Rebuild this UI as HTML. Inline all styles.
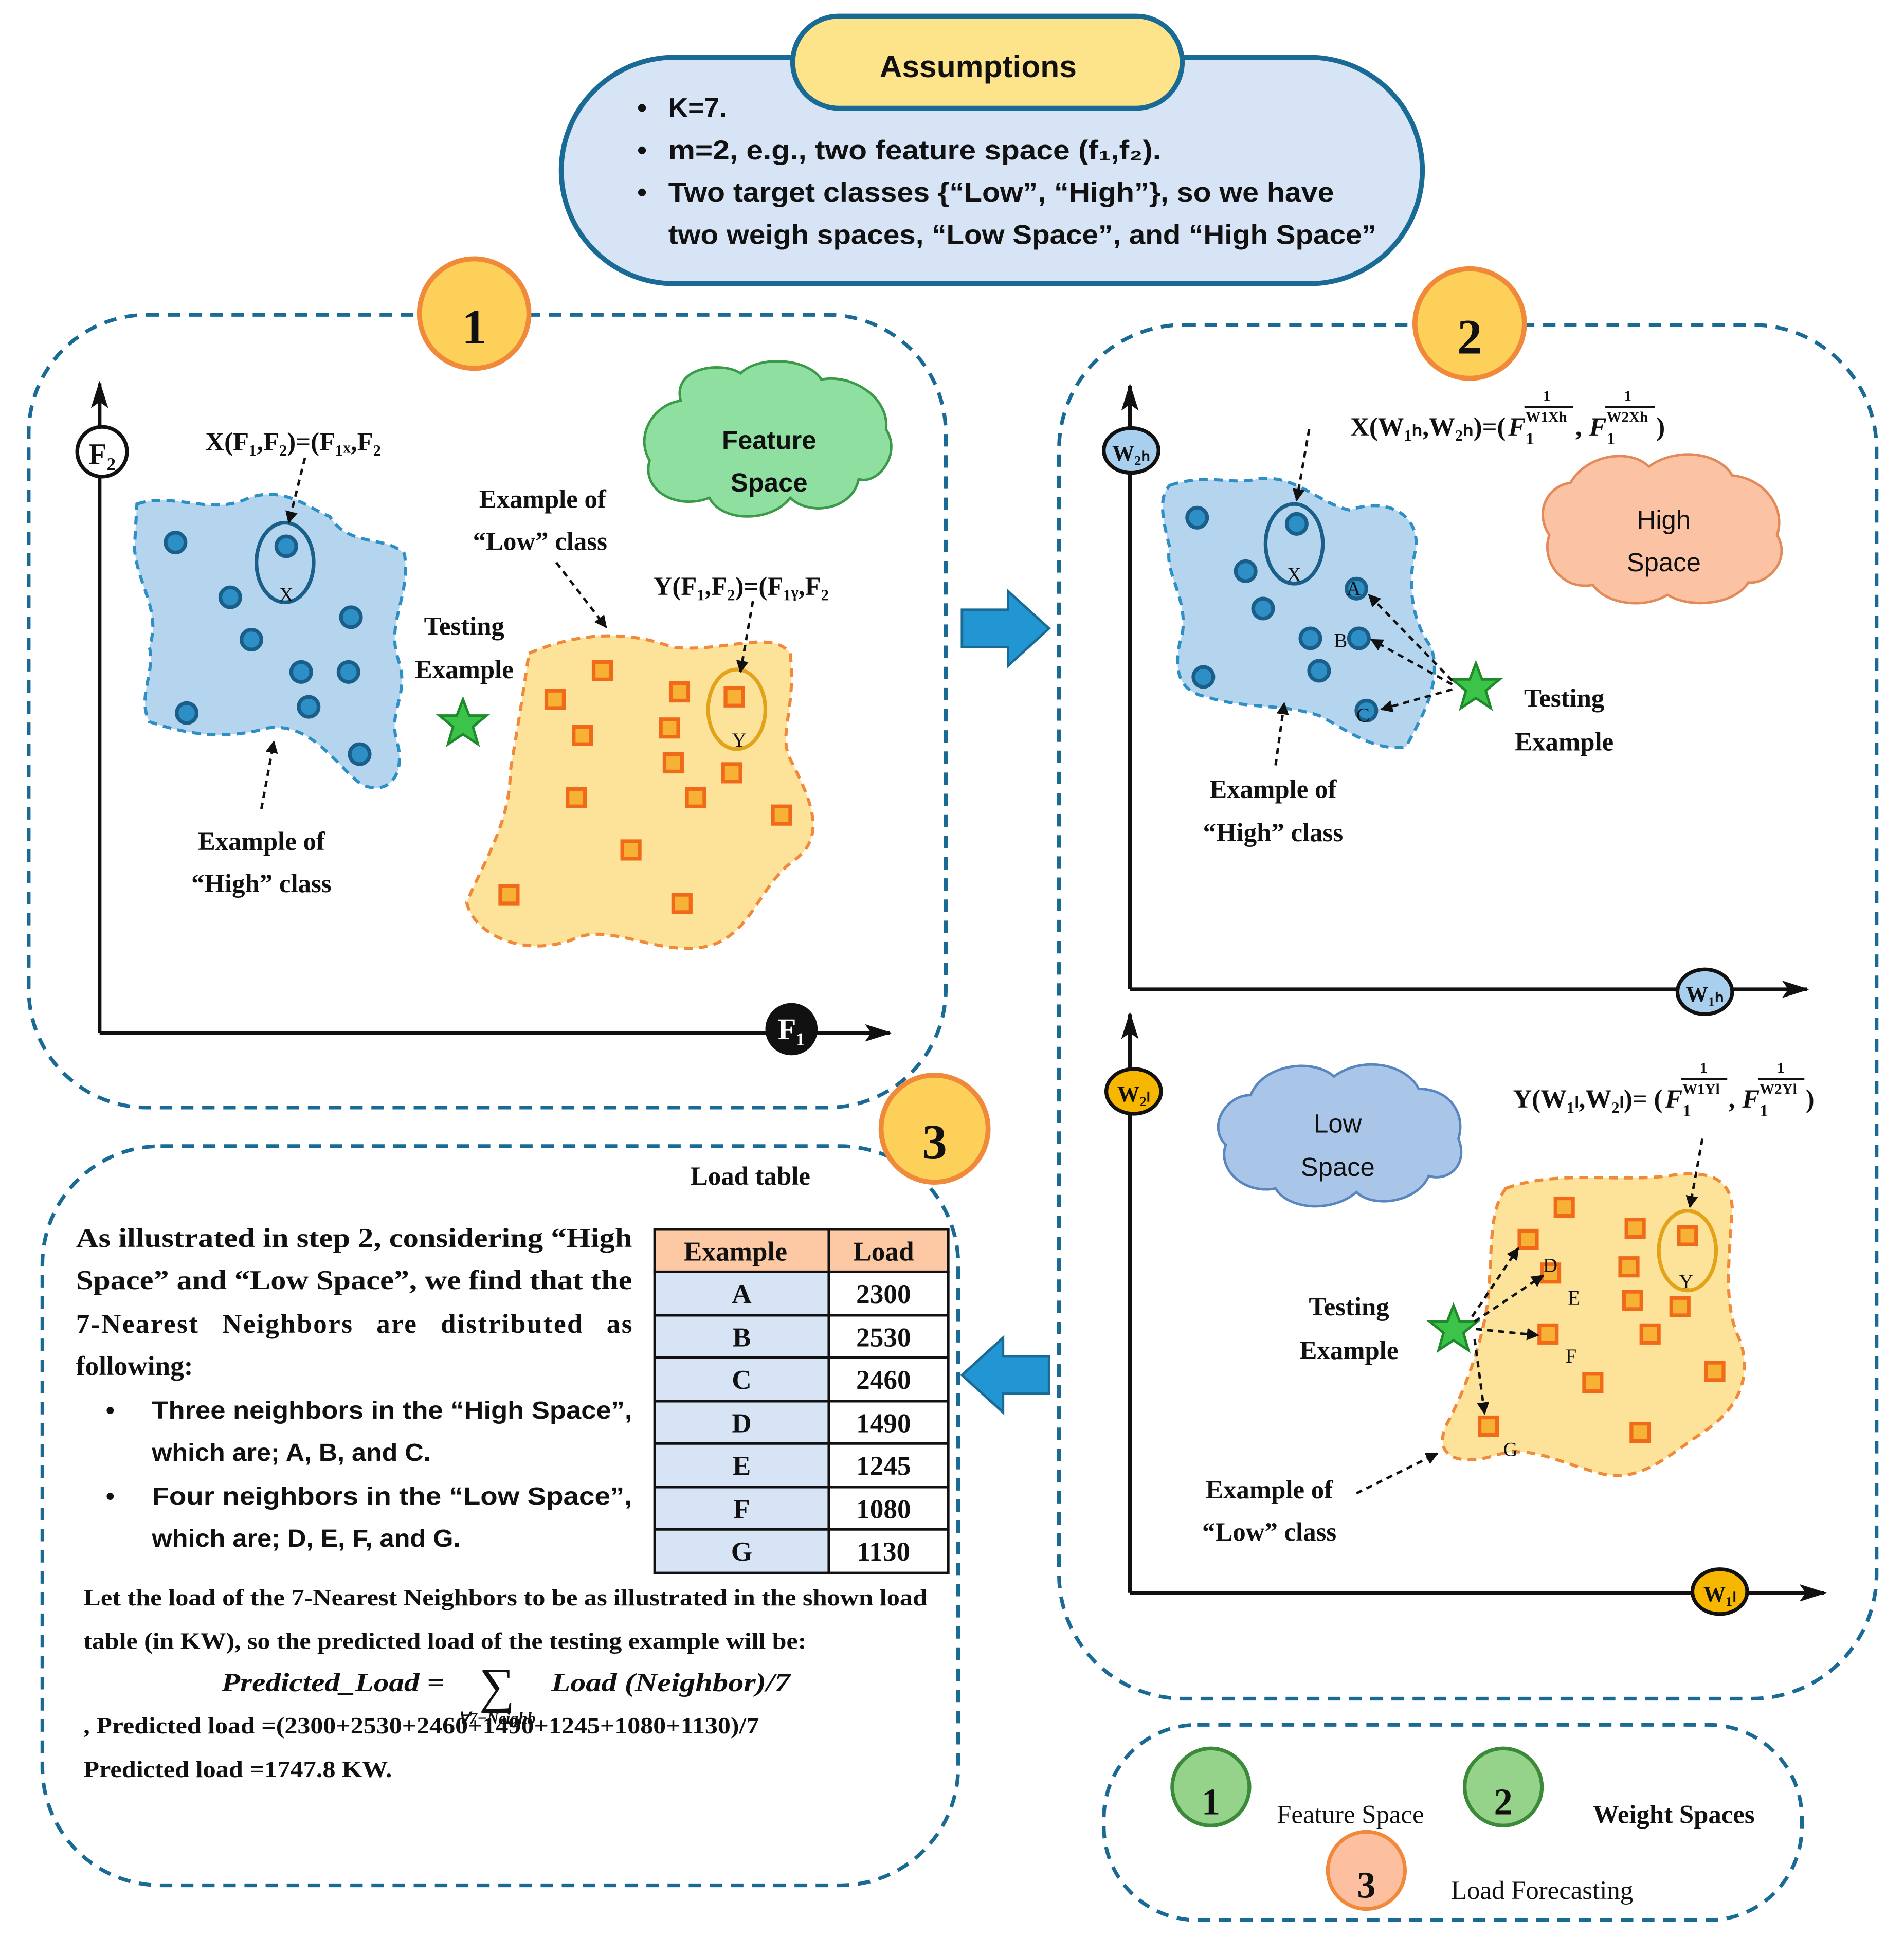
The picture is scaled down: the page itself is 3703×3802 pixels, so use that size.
<!DOCTYPE html>
<html><head><meta charset="utf-8"><style>
html,body{margin:0;padding:0;background:#fff}
svg{display:block}
.s{font-family:"Liberation Serif",serif;font-weight:bold;fill:#111}
.a{font-family:"Liberation Sans",sans-serif;font-weight:bold;fill:#111}
.n{font-weight:normal}
</style></head><body>
<svg xmlns="http://www.w3.org/2000/svg" width="3703" height="3802" viewBox="0 0 1530 1571">
<defs>
<marker id="ar" markerWidth="10" markerHeight="10" refX="9" refY="5" orient="auto" markerUnits="userSpaceOnUse"><path d="M0,0 L10,5 L0,10 Z" fill="#111"/></marker>
<marker id="ax" markerWidth="22" markerHeight="14" refX="20" refY="7" orient="auto" markerUnits="userSpaceOnUse"><path d="M0,0 L22,7 L0,14 L5,7 Z" fill="#111"/></marker>
<g id="dot"><circle r="8" fill="#2e8fc7" stroke="#1a5e8a" stroke-width="3"/></g>
<g id="sq"><rect x="-7" y="-7" width="14" height="14" fill="#f7b235" stroke="#f06a1a" stroke-width="3"/></g>
<g id="star"><polygon points="0,-19 5,-6 19,-6 8,3 12,17 0,9 -12,17 -8,3 -19,-6 -5,-6" fill="#3cc34a" stroke="#1e8a2a" stroke-width="2"/></g>
</defs>

<!-- Assumptions -->
<rect x="451" y="46" width="692" height="182" rx="91" fill="#d6e4f5" stroke="#1a6a96" stroke-width="4"/>
<rect x="637" y="13" width="313" height="74" rx="37" fill="#fde48a" stroke="#1a6a96" stroke-width="4"/>
<text x="786" y="62" class="a" font-size="25" text-anchor="middle">Assumptions</text>
<g class="a" font-size="22">
<text x="512" y="94">•</text><text x="512" y="128">•</text><text x="512" y="162">•</text>
<text x="537" y="94">K=7.</text>
<text x="537" y="128" textLength="396" lengthAdjust="spacingAndGlyphs">m=2, e.g., two feature space (f₁,f₂).</text>
<text x="537" y="162" textLength="535" lengthAdjust="spacingAndGlyphs">Two target classes {“Low”, “High”}, so we have</text>
<text x="537" y="196" textLength="569" lengthAdjust="spacingAndGlyphs">two weigh spaces, “Low Space”, and “High Space”</text>
</g>

<!-- Panel 1 -->
<rect x="23" y="253" width="737" height="637" rx="95" fill="none" stroke="#1a6a96" stroke-width="3" stroke-dasharray="10,7"/>
<circle cx="381" cy="252" r="44" fill="#fdd05a" stroke="#f08a3a" stroke-width="4"/>
<text x="381" y="276" class="s" font-size="40" text-anchor="middle">1</text>
<line x1="80" y1="830" x2="80" y2="308" stroke="#111" stroke-width="3" marker-end="url(#ax)"/>
<line x1="80" y1="830" x2="715" y2="830" stroke="#111" stroke-width="3" marker-end="url(#ax)"/>
<circle cx="82" cy="363" r="20" fill="#fff" stroke="#111" stroke-width="3"/>
<text x="82" y="373" class="s" font-size="24" text-anchor="middle">F₂</text>
<circle cx="636" cy="827" r="21" fill="#111"/>
<text x="636" y="835" class="s" font-size="24" text-anchor="middle" style="fill:#fff">F₁</text>
<path d="M110,405 C140,395 170,415 200,400 C230,390 250,410 265,415 C280,440 310,430 325,445 C330,480 310,500 320,530 C330,560 310,570 320,600 C325,625 310,640 290,630 C270,615 250,580 215,585 C180,595 150,590 120,580 C110,560 125,540 120,520 C130,490 110,470 108,440 Z" fill="#b5d5ef" stroke="#2e8fc7" stroke-width="2.5" stroke-dasharray="7,5"/>
<use href="#dot" x="141" y="436"/><use href="#dot" x="230" y="439"/><use href="#dot" x="185" y="480"/>
<use href="#dot" x="282" y="496"/><use href="#dot" x="202" y="514"/><use href="#dot" x="242" y="540"/>
<use href="#dot" x="280" y="540"/><use href="#dot" x="248" y="568"/><use href="#dot" x="150" y="573"/><use href="#dot" x="289" y="606"/>
<ellipse cx="229" cy="452" rx="23" ry="32" fill="none" stroke="#1a5e8a" stroke-width="3"/>
<text x="230" y="483" class="s n" font-size="16" text-anchor="middle">X</text>
<path d="M425,525 C460,510 500,505 540,520 C580,525 620,505 635,525 C640,570 625,590 635,610 C650,640 665,670 640,690 C610,710 605,750 570,760 C530,770 490,740 460,755 C420,770 380,750 375,725 C390,690 410,660 410,620 C415,590 420,560 425,525 Z" fill="#fde39a" stroke="#f08a3a" stroke-width="2.5" stroke-dasharray="7,5"/>
<use href="#sq" x="484" y="539"/><use href="#sq" x="546" y="556"/><use href="#sq" x="590" y="560"/><use href="#sq" x="446" y="562"/>
<use href="#sq" x="538" y="585"/><use href="#sq" x="468" y="591"/><use href="#sq" x="541" y="613"/><use href="#sq" x="588" y="621"/>
<use href="#sq" x="463" y="641"/><use href="#sq" x="559" y="641"/><use href="#sq" x="628" y="655"/><use href="#sq" x="507" y="683"/>
<use href="#sq" x="409" y="719"/><use href="#sq" x="548" y="726"/>
<ellipse cx="592" cy="570" rx="23" ry="32" fill="none" stroke="#e2a21a" stroke-width="3"/>
<text x="594" y="600" class="s n" font-size="16" text-anchor="middle">Y</text>
<use href="#star" x="372" y="581"/>
<path d="M547,322 C540,295 580,290 595,300 C610,285 650,288 660,305 C685,300 715,320 712,345 C725,365 705,390 690,385 C685,410 650,415 635,400 C620,420 580,420 570,400 C545,410 515,395 522,370 C510,350 525,325 547,322 Z" fill="#8fe0a0" stroke="#3a9a4a" stroke-width="2"/>
<text x="618" y="361" class="a" font-size="21" text-anchor="middle">Feature</text>
<text x="618" y="395" class="a" font-size="21" text-anchor="middle">Space</text>
<g class="s" font-size="21">
<text x="165" y="362">X(F₁,F₂)=(F₁ₓ,F₂</text>
<text x="385" y="408">Example of</text>
<text x="380" y="442">“Low” class</text>
<text x="525" y="478">Y(F₁,F₂)=(F₁ᵧ,F₂</text>
<text x="373" y="510" text-anchor="middle">Testing</text>
<text x="373" y="545" text-anchor="middle">Example</text>
<text x="210" y="683" text-anchor="middle">Example of</text>
<text x="210" y="717" text-anchor="middle">“High” class</text>
</g>
<g stroke="#111" stroke-width="2" stroke-dasharray="5,4" fill="none" marker-end="url(#ar)">
<line x1="245" y1="368" x2="232" y2="420"/>
<line x1="447" y1="452" x2="487" y2="504"/>
<line x1="605" y1="483" x2="595" y2="540"/>
<line x1="210" y1="650" x2="220" y2="596"/>
</g>

<!-- arrows -->
<path d="M773,490 L810,490 L810,475 L843,505 L810,535 L810,520 L773,520 Z" fill="#2196d3" stroke="#1a6a96" stroke-width="2"/>
<path d="M843,1090 L806,1090 L806,1075 L773,1105 L806,1135 L806,1120 L843,1120 Z" fill="#2196d3" stroke="#1a6a96" stroke-width="2"/>

<!-- Panel 2 -->
<rect x="851" y="261" width="657" height="1104" rx="100" fill="none" stroke="#1a6a96" stroke-width="3" stroke-dasharray="10,7"/>
<circle cx="1181" cy="260" r="44" fill="#fdd05a" stroke="#f08a3a" stroke-width="4"/>
<text x="1181" y="284" class="s" font-size="40" text-anchor="middle">2</text>
<line x1="908" y1="795" x2="908" y2="310" stroke="#111" stroke-width="3" marker-end="url(#ax)"/>
<line x1="908" y1="795" x2="1452" y2="795" stroke="#111" stroke-width="3" marker-end="url(#ax)"/>
<ellipse cx="909" cy="362" rx="22" ry="18" fill="#a9cfee" stroke="#111" stroke-width="3"/>
<text x="909" y="370" class="s" font-size="18" text-anchor="middle">W₂ₕ</text>
<ellipse cx="1370" cy="797" rx="22" ry="18" fill="#a9cfee" stroke="#111" stroke-width="3"/>
<text x="1370" y="805" class="s" font-size="18" text-anchor="middle">W₁ₕ</text>
<path d="M940,390 C970,380 990,390 1010,385 C1040,380 1060,405 1085,410 C1110,400 1140,410 1138,440 C1130,470 1135,500 1150,520 C1160,550 1140,580 1130,600 C1105,605 1080,585 1060,575 C1030,565 1000,570 970,560 C940,555 945,525 950,510 C955,480 935,460 940,440 C935,420 930,400 940,390 Z" fill="#b5d5ef" stroke="#2e8fc7" stroke-width="2.5" stroke-dasharray="7,5"/>
<use href="#dot" x="962" y="416"/><use href="#dot" x="1042" y="421"/><use href="#dot" x="1001" y="459"/><use href="#dot" x="1015" y="489"/>
<use href="#dot" x="1090" y="473"/><use href="#dot" x="1053" y="513"/><use href="#dot" x="1092" y="513"/><use href="#dot" x="1060" y="539"/>
<use href="#dot" x="967" y="544"/><use href="#dot" x="1098" y="571"/>
<ellipse cx="1040" cy="437" rx="23" ry="32" fill="none" stroke="#1a5e8a" stroke-width="3"/>
<g class="s n" font-size="16"><text x="1040" y="467" text-anchor="middle">X</text><text x="1082" y="478">A</text><text x="1072" y="520">B</text><text x="1090" y="580">C</text></g>
<use href="#star" x="1186" y="552"/>
<g stroke="#111" stroke-width="2" stroke-dasharray="5,4" fill="none" marker-end="url(#ar)">
<line x1="1167" y1="547" x2="1100" y2="478"/>
<line x1="1167" y1="550" x2="1102" y2="514"/>
<line x1="1167" y1="554" x2="1110" y2="570"/>
<line x1="1052" y1="345" x2="1042" y2="402"/>
<line x1="1025" y1="615" x2="1032" y2="565"/>
</g>
<path d="M1262,388 C1275,365 1310,360 1325,375 C1345,360 1380,362 1392,382 C1420,385 1435,410 1428,430 C1440,450 1420,470 1405,468 C1395,485 1360,490 1340,478 C1320,490 1290,485 1280,470 C1255,475 1238,450 1245,430 C1232,410 1245,390 1262,388 Z" fill="#fbc3a4" stroke="#e28a5a" stroke-width="2"/>
<text x="1337" y="425" class="a n" font-size="21" text-anchor="middle">High</text>
<text x="1337" y="459" class="a n" font-size="21" text-anchor="middle">Space</text>
<g class="s" font-size="21">
<text x="1210" y="350" text-anchor="end">X(W₁ₕ,W₂ₕ)=(</text>
<text x="1212" y="350" font-style="italic">F</text>
<text x="1226" y="357" font-size="14">1</text>
<text x="1226" y="339" font-size="12">W1Xh</text><line x1="1225" y1="327" x2="1264" y2="327" stroke="#111" stroke-width="1.5"/>
<text x="1240" y="322" font-size="12">1</text>
<text x="1266" y="350">, </text><text x="1277" y="350" font-style="italic">F</text>
<text x="1291" y="357" font-size="14">1</text>
<text x="1291" y="339" font-size="12">W2Xh</text><line x1="1290" y1="327" x2="1330" y2="327" stroke="#111" stroke-width="1.5"/>
<text x="1305" y="322" font-size="12">1</text>
<text x="1331" y="350">)</text>
<text x="1257" y="568" text-anchor="middle">Testing</text>
<text x="1257" y="603" text-anchor="middle">Example</text>
<text x="1023" y="641" text-anchor="middle">Example of</text>
<text x="1023" y="676" text-anchor="middle">“High” class</text>
</g>

<line x1="908" y1="1280" x2="908" y2="815" stroke="#111" stroke-width="3" marker-end="url(#ax)"/>
<line x1="908" y1="1280" x2="1466" y2="1280" stroke="#111" stroke-width="3" marker-end="url(#ax)"/>
<ellipse cx="911" cy="877" rx="22" ry="18" fill="#f7b700" stroke="#111" stroke-width="3"/>
<text x="911" y="885" class="s" font-size="18" text-anchor="middle">W₂ₗ</text>
<ellipse cx="1382" cy="1279" rx="22" ry="18" fill="#f7b700" stroke="#111" stroke-width="3"/>
<text x="1382" y="1287" class="s" font-size="18" text-anchor="middle">W₁ₗ</text>
<path d="M1005,880 C1015,855 1055,850 1072,865 C1095,848 1130,855 1140,875 C1165,875 1178,895 1172,915 C1180,935 1165,950 1148,945 C1140,965 1105,972 1090,958 C1070,975 1035,972 1025,955 C1000,960 978,940 985,920 C970,905 985,880 1005,880 Z" fill="#a9c6e8" stroke="#5a86c0" stroke-width="2"/>
<text x="1075" y="910" class="a n" font-size="21" text-anchor="middle">Low</text>
<text x="1075" y="945" class="a n" font-size="21" text-anchor="middle">Space</text>
<path d="M1210,955 C1250,940 1300,950 1340,945 C1370,940 1390,945 1392,970 C1390,1010 1385,1040 1395,1070 C1410,1100 1400,1130 1370,1150 C1340,1170 1320,1190 1290,1185 C1250,1175 1230,1160 1200,1170 C1165,1180 1150,1165 1165,1140 C1180,1110 1190,1080 1195,1050 C1200,1010 1195,975 1210,955 Z" fill="#fde39a" stroke="#f08a3a" stroke-width="2.5" stroke-dasharray="7,5"/>
<use href="#sq" x="1257" y="970"/><use href="#sq" x="1228" y="996"/><use href="#sq" x="1314" y="987"/><use href="#sq" x="1356" y="993"/>
<use href="#sq" x="1309" y="1018"/><use href="#sq" x="1246" y="1023"/><use href="#sq" x="1312" y="1045"/><use href="#sq" x="1350" y="1050"/>
<use href="#sq" x="1244" y="1072"/><use href="#sq" x="1326" y="1072"/><use href="#sq" x="1378" y="1102"/><use href="#sq" x="1280" y="1111"/>
<use href="#sq" x="1196" y="1146"/><use href="#sq" x="1318" y="1151"/>
<ellipse cx="1356" cy="1005" rx="23" ry="32" fill="none" stroke="#e2a21a" stroke-width="3"/>
<g class="s n" font-size="16"><text x="1355" y="1035" text-anchor="middle">Y</text><text x="1240" y="1022">D</text><text x="1260" y="1048">E</text><text x="1258" y="1095">F</text><text x="1208" y="1170">G</text></g>
<use href="#star" x="1168" y="1068"/>
<g stroke="#111" stroke-width="2" stroke-dasharray="5,4" fill="none" marker-end="url(#ar)">
<line x1="1183" y1="1058" x2="1220" y2="1003"/>
<line x1="1185" y1="1062" x2="1240" y2="1025"/>
<line x1="1186" y1="1068" x2="1236" y2="1073"/>
<line x1="1185" y1="1076" x2="1193" y2="1136"/>
<line x1="1368" y1="915" x2="1358" y2="970"/>
<line x1="1090" y1="1200" x2="1155" y2="1168"/>
</g>
<g class="s" font-size="21">
<text x="1336" y="890" text-anchor="end">Y(W₁ₗ,W₂ₗ)= (</text>
<text x="1338" y="890" font-style="italic">F</text>
<text x="1352" y="897" font-size="14">1</text>
<text x="1352" y="879" font-size="12">W1Yl</text><line x1="1351" y1="867" x2="1388" y2="867" stroke="#111" stroke-width="1.5"/>
<text x="1366" y="862" font-size="12">1</text>
<text x="1389" y="890">, </text><text x="1400" y="890" font-style="italic">F</text>
<text x="1414" y="897" font-size="14">1</text>
<text x="1414" y="879" font-size="12">W2Yl</text><line x1="1413" y1="867" x2="1450" y2="867" stroke="#111" stroke-width="1.5"/>
<text x="1428" y="862" font-size="12">1</text>
<text x="1451" y="890">)</text>
<text x="1084" y="1057" text-anchor="middle">Testing</text>
<text x="1084" y="1092" text-anchor="middle">Example</text>
<text x="1020" y="1204" text-anchor="middle">Example of</text>
<text x="1020" y="1238" text-anchor="middle">“Low” class</text>
</g>

<!-- Panel 3 -->
<rect x="34" y="921" width="736" height="594" rx="95" fill="none" stroke="#1a6a96" stroke-width="3" stroke-dasharray="10,7"/>
<circle cx="751" cy="907" r="43" fill="#fdd05a" stroke="#f08a3a" stroke-width="4"/>
<text x="751" y="931" class="s" font-size="40" text-anchor="middle">3</text>
<text x="603" y="952" class="s" font-size="21" text-anchor="middle">Load table</text>
<g stroke="#111" stroke-width="2">
<rect x="526" y="988" width="236" height="34" fill="#fdc9a4"/>
<rect x="526" y="1022" width="140" height="242" fill="#d6e4f5"/>
<rect x="666" y="1022" width="96" height="242" fill="#fff"/>
<line x1="666" y1="988" x2="666" y2="1264"/>
<line x1="526" y1="1057" x2="762" y2="1057"/><line x1="526" y1="1091" x2="762" y2="1091"/>
<line x1="526" y1="1126" x2="762" y2="1126"/><line x1="526" y1="1160" x2="762" y2="1160"/>
<line x1="526" y1="1195" x2="762" y2="1195"/><line x1="526" y1="1229" x2="762" y2="1229"/>
</g>
<g class="s" font-size="22">
<text x="591" y="1013" text-anchor="middle">Example</text><text x="710" y="1013" text-anchor="middle">Load</text>
<text x="596" y="1047" text-anchor="middle">A</text><text x="710" y="1047" text-anchor="middle">2300</text>
<text x="596" y="1082" text-anchor="middle">B</text><text x="710" y="1082" text-anchor="middle">2530</text>
<text x="596" y="1116" text-anchor="middle">C</text><text x="710" y="1116" text-anchor="middle">2460</text>
<text x="596" y="1151" text-anchor="middle">D</text><text x="710" y="1151" text-anchor="middle">1490</text>
<text x="596" y="1185" text-anchor="middle">E</text><text x="710" y="1185" text-anchor="middle">1245</text>
<text x="596" y="1220" text-anchor="middle">F</text><text x="710" y="1220" text-anchor="middle">1080</text>
<text x="596" y="1254" text-anchor="middle">G</text><text x="710" y="1254" text-anchor="middle">1130</text>
<text x="61" y="1002" textLength="447" lengthAdjust="spacingAndGlyphs">As illustrated in step 2, considering “High</text>
<text x="61" y="1036" textLength="447" lengthAdjust="spacingAndGlyphs">Space” and “Low Space”, we find that the</text>
<text x="61" y="1071" textLength="447" lengthAdjust="spacing" word-spacing="12">7-Nearest Neighbors are distributed as</text>
<text x="61" y="1105">following:</text>
</g>
<g class="a" font-size="20">
<text x="85" y="1140">•</text><text x="122" y="1140" textLength="386" lengthAdjust="spacingAndGlyphs">Three neighbors in the “High Space”,</text>
<text x="122" y="1174" textLength="224" lengthAdjust="spacingAndGlyphs">which are; A, B, and C.</text>
<text x="85" y="1209">•</text><text x="122" y="1209" textLength="386" lengthAdjust="spacingAndGlyphs">Four neighbors in the “Low Space”,</text>
<text x="122" y="1243" textLength="248" lengthAdjust="spacingAndGlyphs">which are; D, E, F, and G.</text>
</g>
<g class="s" font-size="19">
<text x="67" y="1290" textLength="678" lengthAdjust="spacingAndGlyphs">Let the load of the 7-Nearest Neighbors to be as illustrated in the shown load</text>
<text x="67" y="1325" textLength="581" lengthAdjust="spacingAndGlyphs">table (in KW), so the predicted load of the testing example will be:</text>
<text x="178" y="1359" font-style="italic" font-size="21" textLength="179" lengthAdjust="spacingAndGlyphs">Predicted_Load =</text>
<text x="385" y="1368" font-size="40" class="s n">∑</text>
<text x="368" y="1385" font-size="13" font-style="italic">∀7−Neighb</text>
<text x="443" y="1359" font-style="italic" font-size="21" textLength="192" lengthAdjust="spacingAndGlyphs">Load (Neighbor)/7</text>
<text x="67" y="1393" textLength="543" lengthAdjust="spacingAndGlyphs">, Predicted load =(2300+2530+2460+1490+1245+1080+1130)/7</text>
<text x="67" y="1428" textLength="248" lengthAdjust="spacingAndGlyphs">Predicted load =1747.8 KW.</text>
</g>

<!-- Legend -->
<rect x="887" y="1386" width="561" height="157" rx="75" fill="none" stroke="#1a6a96" stroke-width="3" stroke-dasharray="10,7"/>
<circle cx="973" cy="1436" r="31" fill="#96d38a" stroke="#3a8a3a" stroke-width="3"/>
<text x="973" y="1458" class="s" font-size="30" text-anchor="middle">1</text>
<circle cx="1208" cy="1436" r="31" fill="#96d38a" stroke="#3a8a3a" stroke-width="3"/>
<text x="1208" y="1458" class="s" font-size="30" text-anchor="middle">2</text>
<circle cx="1098" cy="1503" r="31" fill="#fcc0a0" stroke="#f08a3a" stroke-width="3"/>
<text x="1098" y="1525" class="s" font-size="30" text-anchor="middle">3</text>
<text x="1026" y="1465" class="s n" font-size="21">Feature Space</text>
<text x="1280" y="1465" class="s" font-size="21">Weight Spaces</text>
<text x="1166" y="1526" class="s n" font-size="21">Load Forecasting</text>
</svg>
</body></html>
